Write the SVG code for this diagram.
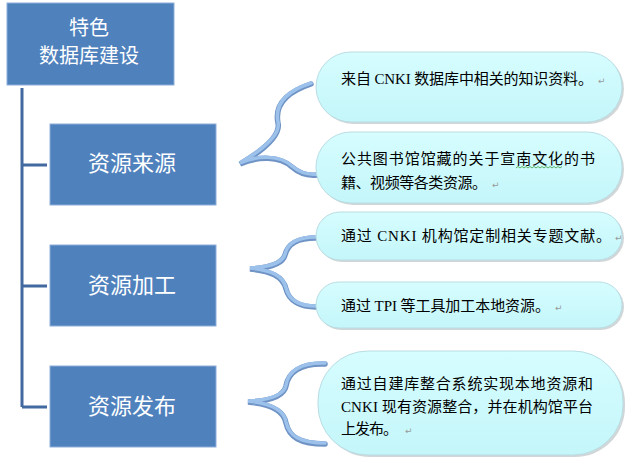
<svg xmlns="http://www.w3.org/2000/svg" width="629" height="461" viewBox="0 0 629 461">
<defs>
<linearGradient id="pillGrad" x1="0" y1="0" x2="0" y2="1">
<stop offset="0" stop-color="#D6FDFF"/>
<stop offset="1" stop-color="#C4F6FA"/>
</linearGradient>
</defs>
<style>
.box{fill:#4F81BD;stroke:#8EAEDB;stroke-width:1}
.btxt{fill:#FFFFFF;font-family:"Noto Sans CJK SC","Noto Sans CJK JP",sans-serif;font-size:22px;text-anchor:middle}
.rtxt{font-size:20px}
.pill{fill:url(#pillGrad);stroke:#B9DDE3;stroke-width:1}
.shadow{fill:#9AA6AA;opacity:0.45}
.ptxt{fill:#000000;font-family:"Liberation Serif","Noto Sans CJK SC",serif;font-size:15px}
.ret{fill:#9A9A9A;font-family:"DejaVu Sans",sans-serif;font-size:9px}
.tree{fill:none;stroke:#4269A0;stroke-width:3}
.braceDark{fill:none;stroke:#6F93C4;stroke-width:5.5;stroke-linecap:round}
.braceLight{fill:none;stroke:#9CC2EC;stroke-width:3.5;stroke-linecap:round}
</style>
<g id="connectors">
<path class="tree" d="M22,88 V407 M22,165 H47 M22,286 H47 M22,407 H47"/>
<g id="brace1">
<path class="braceDark" d="M311,84 C290,91 274,103 278,123 C281,136 262,151 240,164 C258,156 280,156 292,167 C300,174 308,176 317,175"/>
<path class="braceLight" d="M311,83 C290,90 274,102 278,122 C281,135 262,150 240,163 C258,155 280,155 292,166 C300,173 308,175 317,174"/>
</g>
<g id="brace2">
<path class="braceDark" d="M316,238 C298,238 288,243 285,255 C283,263 270,268 250,269 C270,271 283,276 286,289 C289,301 300,307 316,307"/>
<path class="braceLight" d="M316,237 C298,237 288,242 285,254 C283,262 270,267 250,268 C270,270 283,275 286,288 C289,300 300,306 316,306"/>
</g>
<g id="brace3">
<path class="braceDark" d="M325,364 C300,363 288,373 286,386 C284,396 270,401 248,402 C270,404 284,411 286,423 C289,437 300,444 325,444"/>
<path class="braceLight" d="M325,363 C300,362 288,372 286,385 C284,395 270,400 248,401 C270,403 284,410 286,422 C289,436 300,443 325,443"/>
</g>
</g>
<g id="node-root">
<rect class="box" x="7" y="3" width="167" height="82"/>
<text class="btxt rtxt" x="89" y="35">特色</text>
<text class="btxt rtxt" x="89" y="63">数据库建设</text>
</g>
<g id="node-source">
<rect class="box" x="50" y="124" width="166" height="81"/>
<text class="btxt" x="132" y="171">资源来源</text>
</g>
<g id="node-process">
<rect class="box" x="50" y="245" width="166" height="81"/>
<text class="btxt" x="132" y="293">资源加工</text>
</g>
<g id="node-publish">
<rect class="box" x="50" y="366" width="166" height="81"/>
<text class="btxt" x="132" y="414">资源发布</text>
</g>
<g id="node-s1">
<rect class="shadow" x="318" y="54" width="306" height="70" rx="35"/>
<rect class="pill" x="316" y="52" width="306" height="70" rx="35"/>
<text class="ptxt" x="341" y="84" textLength="252" lengthAdjust="spacing">来自 CNKI 数据库中相关的知识资料。</text>
<text class="ret" x="598" y="84">↵</text>
</g>
<g id="node-s2">
<rect class="shadow" x="318" y="134" width="306" height="71" rx="35"/>
<rect class="pill" x="316" y="132" width="306" height="71" rx="35"/>
<text class="ptxt" x="341" y="164" textLength="254" lengthAdjust="spacing">公共图书馆馆藏的关于宣南文化的书</text>
<text class="ptxt" x="341" y="188" textLength="146" lengthAdjust="spacing">籍、视频等各类资源。</text>
<text class="ret" x="492" y="188">↵</text>
<path d="M516,168 l2,-1.5 l2,1.5 l2,-1.5 l2,1.5 l2,-1.5 l2,1.5 l2,-1.5 l2,1.5 l2,-1.5 l2,1.5 l2,-1.5 l2,1.5 l2,-1.5 l2,1.5 l2,-1.5 l2,1.5 l2,-1.5 l2,1.5 l2,-1.5 l2,1.5 l2,-1.5 l2,1.5 l2,-1.5" fill="none" stroke="#3CA03C" stroke-width="0.8"/>
</g>
<g id="node-p1">
<rect class="shadow" x="318" y="214" width="306" height="48" rx="24"/>
<rect class="pill" x="316" y="212" width="306" height="48" rx="24"/>
<text class="ptxt" x="341" y="241" textLength="270" lengthAdjust="spacing">通过 CNKI 机构馆定制相关专题文献。</text>
<text class="ret" x="615" y="241">↵</text>
</g>
<g id="node-p2">
<rect class="shadow" x="318" y="284" width="306" height="46" rx="23"/>
<rect class="pill" x="316" y="282" width="306" height="46" rx="23"/>
<text class="ptxt" x="341" y="311" textLength="209" lengthAdjust="spacing">通过 TPI 等工具加工本地资源。</text>
<text class="ret" x="555" y="311">↵</text>
</g>
<g id="node-r1">
<rect class="shadow" x="320" y="353" width="305" height="104" rx="50"/>
<rect class="pill" x="318" y="351" width="305" height="104" rx="50"/>
<text class="ptxt" x="341" y="389" textLength="252" lengthAdjust="spacing">通过自建库整合系统实现本地资源和</text>
<text class="ptxt" x="341" y="412" textLength="252" lengthAdjust="spacing">CNKI 现有资源整合，并在机构馆平台</text>
<text class="ptxt" x="341" y="434" textLength="57" lengthAdjust="spacing">上发布。</text>
<text class="ret" x="405" y="434">↵</text>
</g>
</svg>
